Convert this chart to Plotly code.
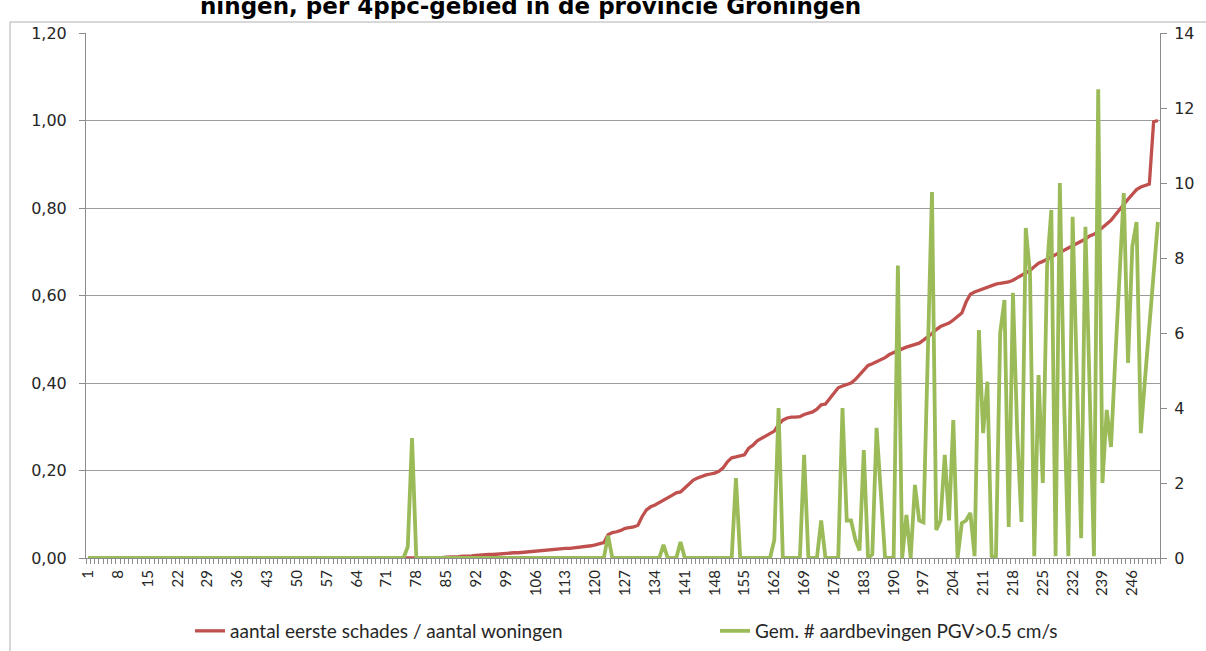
import plotly.graph_objects as go

# ---------------- data ----------------
categories = list(range(1, 253))

# left axis: aantal eerste schades / aantal woningen
damage_ratio = [
    # 1-83
    0, 0, 0, 0, 0, 0, 0, 0, 0, 0, 0, 0, 0, 0, 0,
    0, 0, 0, 0, 0, 0, 0, 0, 0, 0, 0, 0, 0, 0, 0,
    0, 0, 0, 0, 0, 0, 0, 0, 0, 0, 0, 0, 0, 0, 0,
    0, 0, 0, 0, 0, 0, 0, 0, 0, 0, 0, 0, 0, 0, 0,
    0, 0, 0, 0, 0, 0, 0, 0, 0, 0, 0, 0, 0, 0, 0,
    0, 0, 0, 0, 0, 0, 0, 0,
    # 84-100
    0.001, 0.002, 0.002, 0.003, 0.003, 0.004, 0.004, 0.005, 0.006, 0.007,
    0.007, 0.008, 0.008, 0.009, 0.010, 0.010, 0.011,
    # 101-120
    0.012, 0.012, 0.013, 0.014, 0.015, 0.016, 0.017, 0.017, 0.018, 0.019,
    0.020, 0.021, 0.022, 0.022, 0.023, 0.024, 0.025, 0.026, 0.028, 0.030,
    # 121-140
    0.032, 0.035, 0.053, 0.058, 0.060, 0.063, 0.068, 0.070, 0.071, 0.075,
    0.095, 0.110, 0.117, 0.121, 0.126, 0.132, 0.138, 0.143, 0.149, 0.151,
    # 141-160
    0.160, 0.170, 0.178, 0.183, 0.187, 0.190, 0.192, 0.194, 0.198, 0.206,
    0.220, 0.229, 0.231, 0.233, 0.236, 0.251, 0.258, 0.268, 0.274, 0.280,
    # 161-180
    0.285, 0.290, 0.305, 0.315, 0.320, 0.322, 0.322, 0.323, 0.328, 0.331,
    0.334, 0.340, 0.350, 0.352, 0.365, 0.378, 0.389, 0.393, 0.397, 0.400,
    # 181-200
    0.408, 0.418, 0.428, 0.440, 0.444, 0.448, 0.453, 0.458, 0.465, 0.470,
    0.473, 0.478, 0.482, 0.485, 0.488, 0.491, 0.498, 0.505, 0.513, 0.522,
    # 201-220
    0.529, 0.533, 0.537, 0.544, 0.551, 0.560, 0.585, 0.603, 0.608, 0.612,
    0.616, 0.620, 0.624, 0.626, 0.628, 0.630, 0.631, 0.635, 0.640, 0.646,
    # 221-240
    0.651, 0.657, 0.666, 0.674, 0.678, 0.683, 0.688, 0.693, 0.698, 0.703,
    0.708, 0.713, 0.719, 0.724, 0.729, 0.736, 0.740, 0.747, 0.755, 0.762,
    # 241-252
    0.772, 0.784, 0.795, 0.808, 0.820, 0.832, 0.842, 0.848, 0.851, 0.855,
    0.997, 1.000,
]

# right axis: Gem. # aardbevingen PGV>0.5 cm/s
quakes = [
    # 1-75
    0, 0, 0, 0, 0, 0, 0, 0, 0, 0, 0, 0, 0, 0, 0,
    0, 0, 0, 0, 0, 0, 0, 0, 0, 0, 0, 0, 0, 0, 0,
    0, 0, 0, 0, 0, 0, 0, 0, 0, 0, 0, 0, 0, 0, 0,
    0, 0, 0, 0, 0, 0, 0, 0, 0, 0, 0, 0, 0, 0, 0,
    0, 0, 0, 0, 0, 0, 0, 0, 0, 0, 0, 0, 0, 0, 0,
    # 76-77
    0.3, 3.2,
    # 78-122
    0, 0, 0, 0, 0, 0, 0, 0, 0, 0, 0, 0, 0, 0, 0,
    0, 0, 0, 0, 0, 0, 0, 0, 0, 0, 0, 0, 0, 0, 0,
    0, 0, 0, 0, 0, 0, 0, 0, 0, 0, 0, 0, 0, 0, 0,
    # 123
    0.6,
    # 124-135
    0, 0, 0, 0, 0, 0, 0, 0, 0, 0, 0, 0,
    # 136
    0.35,
    # 137-139
    0, 0, 0,
    # 140
    0.43,
    # 141-152
    0, 0, 0, 0, 0, 0, 0, 0, 0, 0, 0, 0,
    # 153
    2.13,
    # 154-161
    0, 0, 0, 0, 0, 0, 0, 0,
    # 162-163
    0.48, 4.0,
    # 164-168
    0, 0, 0, 0, 0,
    # 169
    2.75,
    # 170-172
    0, 0, 0,
    # 173
    1.0,
    # 174-177
    0, 0, 0, 0,
    # 178-191
    4.0, 1.0, 1.0, 0.5, 0.2, 2.88, 0, 0.1, 3.47, 1.7, 0, 0, 0, 7.8,
    # 192-211
    0, 1.15, 0, 1.95, 1.0, 0.95, 5.0, 9.76, 0.75, 1.0,
    2.75, 1.0, 3.68, 0, 0.93, 1.0, 1.2, 0.05, 6.08, 3.33,
    # 212-231
    4.7, 0.05, 0, 6.0, 6.88, 0.83, 7.07, 3.33, 0.96, 8.8,
    7.6, 0.05, 4.88, 2.0, 7.76, 9.28, 0.05, 10.0, 4.2, 0.05,
    # 232-252
    9.1, 4.8, 0.53, 8.83, 4.5, 0.05, 12.5, 2.0, 3.95, 2.96,
    5.3, 7.6, 9.73, 5.2, 8.3, 8.96, 3.33, 4.8, 6.2, 7.6, 8.96,
]

xtick_vals = [1, 8, 15, 22, 29, 36, 43, 50, 57, 64, 71, 78, 85, 92, 99, 106,
              113, 120, 127, 134, 141, 148, 155, 162, 169, 176, 183, 190, 197,
              204, 211, 218, 225, 232, 239, 246]
xtick_text = [str(v) for v in xtick_vals]

left_ticks = [0, 0.2, 0.4, 0.6, 0.8, 1.0, 1.2]
right_ticks = [0, 2, 4, 6, 8, 10, 12, 14]

series_names = ["aantal eerste schades / aantal woningen",
                "Gem. # aardbevingen PGV>0.5 cm/s"]
title_text = "ningen, per 4ppc-gebied in de provincie Groningen"

assert len(damage_ratio) == len(categories) == len(quakes)

# ---------------- geometry ----------------
W, H = 1206, 651
PL, PR, PT, PB = 86, 1160, 33, 558   # plot area in pixels


def px(x):
    return (x - PL) / (PR - PL)


def py(y):
    return (PB - y) / (PB - PT)


RED = "#c0504d"
GREEN = "#9bbb59"
GRID = "#9c9c9c"
AXIS = "#8c8c8c"
TXT = "#262626"

legend_common = dict(orientation="h", xanchor="left", yanchor="middle",
                     font=dict(family="Lato", size=19, color=TXT),
                     bgcolor="rgba(0,0,0,0)", borderwidth=0)

fig = go.Figure()
fig.add_trace(go.Scatter(
    x=categories, y=damage_ratio, name=series_names[0], mode="lines",
    line=dict(color=RED, width=3.3), yaxis="y", cliponaxis=False,
    legend="legend"))
fig.add_trace(go.Scatter(
    x=categories, y=quakes, name=series_names[1], mode="lines",
    line=dict(color=GREEN, width=3.8), yaxis="y2", cliponaxis=False,
    legend="legend2"))

fig.update_layout(
    width=W, height=H,
    margin=dict(l=PL, r=W - PR, t=PT, b=H - PB, pad=0, autoexpand=False),
    paper_bgcolor="white", plot_bgcolor="white",
    separators=", ",
    showlegend=True,
    legend=dict(x=px(190), y=py(631), **legend_common),
    legend2=dict(x=px(715), y=py(631), **legend_common),
    xaxis=dict(range=[0.5, 252.5], tickmode="array", tickvals=xtick_vals,
               ticktext=xtick_text, tickangle=-90, ticks="", showgrid=False,
               zeroline=False, showline=True, linecolor=AXIS, linewidth=1,
               layer="below traces", ticklabelstandoff=5,
               tickfont=dict(family="Lato", size=15, color=TXT),
               minor=dict(ticks="outside", tickmode="linear", tick0=0.5, dtick=1,
                          ticklen=5, tickcolor=AXIS, tickwidth=1, showgrid=False)),
    yaxis=dict(range=[0, 1.2], tickmode="array", tickvals=left_ticks,
               tickformat=".2f", ticks="outside", ticklen=6, tickcolor=AXIS,
               showgrid=True, gridcolor=GRID, gridwidth=1.4, zeroline=False,
               showline=True, linecolor=AXIS, linewidth=1, layer="below traces",
               ticklabelstandoff=9,
               tickfont=dict(family="DejaVu Sans", size=16, color=TXT)),
    yaxis2=dict(range=[0, 14], tickmode="array", tickvals=right_ticks,
                overlaying="y", side="right", ticks="outside", ticklen=6,
                tickcolor=AXIS, showgrid=False, zeroline=False, showline=True,
                linecolor=AXIS, linewidth=1, layer="below traces",
                ticklabelstandoff=4,
                tickfont=dict(family="DejaVu Sans", size=16, color=TXT)),
)

# cropped heading above the chart (its top is cut off, as in the reference)
fig.add_annotation(text="<b>" + title_text + "</b>", xref="paper", yref="paper",
                   x=px(198), y=py(21), xanchor="left", yanchor="bottom",
                   showarrow=False,
                   font=dict(family="DejaVu Sans", size=23, color="#000000"))

# chart frame (top and left edges visible)
fig.add_shape(type="line", xref="paper", yref="paper", x0=px(10), x1=px(1210),
              y0=py(22), y1=py(22), line=dict(color="#b0b0b0", width=1))
fig.add_shape(type="line", xref="paper", yref="paper", x0=px(10), x1=px(10),
              y0=py(22), y1=py(660), line=dict(color="#b0b0b0", width=1))

fig.write_html("out.html", config={"displayModeBar": False},
               post_script="document.body.style.margin='0';")
